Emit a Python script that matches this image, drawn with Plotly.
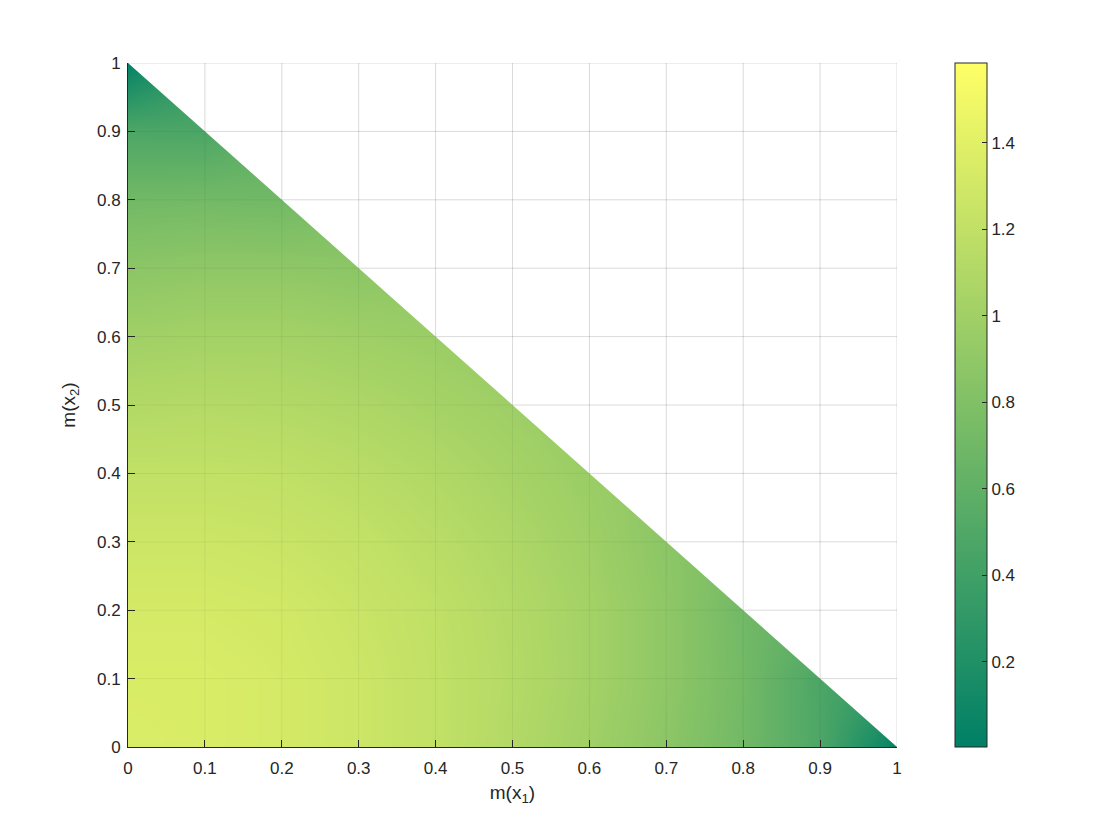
import numpy as np
import plotly.graph_objects as go

# grid coordinates m(x1), m(x2)
m1_vals = [0.0, 0.1, 0.2, 0.3, 0.4, 0.5, 0.6, 0.7, 0.8, 0.9, 1.0]
m2_vals = [0.0, 0.1, 0.2, 0.3, 0.4, 0.5, 0.6, 0.7, 0.8, 0.9, 1.0]

# values (rows: m2, cols: m1); None = outside simplex
row_00 = [1.36, 1.35, 1.32, 1.27, 1.20, 1.11, 1.00, 0.87, 0.71, 0.48, 0.02]
row_01 = [1.35, 1.35, 1.32, 1.27, 1.20, 1.12, 1.02, 0.89, 0.72, 0.47, None]
row_02 = [1.32, 1.32, 1.30, 1.25, 1.19, 1.11, 1.02, 0.89, 0.71, None, None]
row_03 = [1.27, 1.27, 1.25, 1.21, 1.15, 1.08, 0.99, 0.87, None, None, None]
row_04 = [1.20, 1.20, 1.19, 1.15, 1.10, 1.03, 0.96, None, None, None, None]
row_05 = [1.11, 1.12, 1.11, 1.08, 1.03, 0.98, None, None, None, None, None]
row_06 = [1.00, 1.02, 1.02, 0.99, 0.96, None, None, None, None, None, None]
row_07 = [0.87, 0.89, 0.89, 0.87, None, None, None, None, None, None, None]
row_08 = [0.71, 0.72, 0.71, None, None, None, None, None, None, None, None]
row_09 = [0.48, 0.47, None, None, None, None, None, None, None, None, None]
row_10 = [0.02, None, None, None, None, None, None, None, None, None, None]
z_rows = [row_00, row_01, row_02, row_03, row_04, row_05,
          row_06, row_07, row_08, row_09, row_10]

tick_vals = [0, 0.1, 0.2, 0.3, 0.4, 0.5, 0.6, 0.7, 0.8, 0.9, 1]
tick_text = ["0", "0.1", "0.2", "0.3", "0.4", "0.5", "0.6", "0.7", "0.8", "0.9", "1"]
cbar_ticks = [0.2, 0.4, 0.6, 0.8, 1.0, 1.2, 1.4]
cbar_text = ["0.2", "0.4", "0.6", "0.8", "1", "1.2", "1.4"]
z_min, z_max = 0.003, 1.585

z = np.array([[np.nan if v is None else v for v in r] for r in z_rows], dtype=float)

summer = [[0.0, "rgb(0,128,102)"], [1.0, "rgb(255,255,102)"]]
FONT = "Liberation Sans, Arial, Helvetica, sans-serif"
INK = "#262626"

# figure placed at the page's 8px body offset
W, H = 1104, 824
L, R, T, B = 120, 1104 - 889, 55, 824 - 739
plot_w = W - L - R

fig = go.Figure()
fig.add_trace(go.Heatmap(
    x=m1_vals, y=m2_vals, z=z, zsmooth="best", connectgaps=True,
    colorscale=summer, zmin=z_min, zmax=z_max, hoverinfo="skip",
    colorbar=dict(
        x=(947 - L) / plot_w, xanchor="left", y=0.5, yanchor="middle",
        len=1.0, lenmode="fraction", thickness=32, thicknessmode="pixels",
        outlinecolor=INK, outlinewidth=1,
        tickvals=cbar_ticks, ticktext=cbar_text, ticks="inside", ticklen=5,
        tickcolor=INK,
        tickfont=dict(family=FONT, size=17, color=INK),
        xpad=0, ypad=0,
    ),
))
# blank out the region outside the simplex
fig.add_trace(go.Scatter(
    x=[0, 1.1, 1.1, 1, 0], y=[1, 1.1, 1.1, 0, 1], fill="toself",
    fillcolor="white", line=dict(width=0), mode="lines",
    hoverinfo="skip", showlegend=False,
))

shapes = []
for v in tick_vals[1:]:
    # full grid lines, faint over the coloured area
    shapes.append(dict(type="line", xref="x", yref="y", x0=v, x1=v, y0=0, y1=1,
                       line=dict(color="rgba(38,38,38,0.06)", width=1), layer="above"))
    shapes.append(dict(type="line", xref="x", yref="y", x0=0, x1=1, y0=v, y1=v,
                       line=dict(color="rgba(38,38,38,0.06)", width=1), layer="above"))
    # stronger part over the white area
    shapes.append(dict(type="line", xref="x", yref="y", x0=v, x1=v, y0=1 - v, y1=1,
                       line=dict(color="rgba(38,38,38,0.11)", width=1), layer="above"))
    shapes.append(dict(type="line", xref="x", yref="y", x0=1 - v, x1=1, y0=v, y1=v,
                       line=dict(color="rgba(38,38,38,0.11)", width=1), layer="above"))

axis_common = dict(
    range=[0, 1], tickvals=tick_vals, ticktext=tick_text, ticks="inside", ticklen=7,
    tickcolor=INK, showline=True, linecolor=INK, linewidth=1,
    showgrid=False, zeroline=False, mirror=False,
    tickfont=dict(family=FONT, size=17, color=INK),
)

fig.update_layout(
    width=W, height=H,
    margin=dict(l=L, r=R, t=T, b=B),
    paper_bgcolor="white", plot_bgcolor="white",
    showlegend=False,
    shapes=shapes,
    xaxis=dict(**axis_common, ticklabelstandoff=6,
               title=dict(text="m(x<sub>1</sub>)", standoff=8,
                          font=dict(family=FONT, size=19, color=INK))),
    yaxis=dict(**axis_common, ticklabelstandoff=3,
               title=dict(text="m(x<sub>2</sub>)", standoff=16,
                          font=dict(family=FONT, size=19, color=INK))),
)

fig.write_html("out.html")
